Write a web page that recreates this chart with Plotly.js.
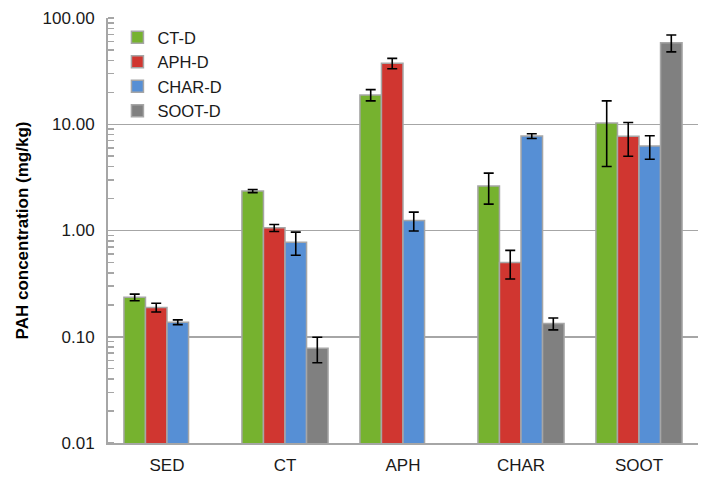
<!DOCTYPE html>
<html>
<head>
<meta charset="utf-8">
<script src="https://cdn.plot.ly/plotly-3.0.1.min.js"></script>
<style>html,body{margin:0;padding:0;background:#fff;}#chart{width:702px;height:479px;}</style>
</head>
<body>
<div id="chart"></div>
<script>
const categories = ["SED", "CT", "APH", "CHAR", "SOOT"];
const seriesNames = ["CT-D", "APH-D", "CHAR-D", "SOOT-D"];
const ctD = [0.235, 2.35, 18.9, 2.62, 10.3];
const ctDErr = [0.017, 0.08, 2.3, 0.85, 6.3];
const aphD = [0.189, 1.06, 37.5, 0.50, 7.7];
const aphDErr = [0.018, 0.08, 4.2, 0.15, 2.7];
const charD = [0.137, 0.775, 1.24, 7.75, 6.24];
const charDErr = [0.007, 0.19, 0.25, 0.4, 1.55];
const sootD = [null, 0.078, null, 0.133, 58.6];
const sootDErr = [null, 0.021, null, 0.017, 10.6];
const yTickVals = [0.01, 0.1, 1, 10, 100];
const yTickText = ["0.01", "0.10", "1.00", "10.00", "100.00"];
const minorVals = [];
[0.01, 0.1, 1, 10].forEach(d => { for (let k = 1; k <= 10; k++) minorVals.push(d * k); });

const colors = ["#76b22f", "#d03630", "#568fd5", "#808080"];
const values = [ctD, aphD, charD, sootD];
const errs = [ctDErr, aphDErr, charDErr, sootDErr];

const traces = seriesNames.map((name, i) => ({
  type: "bar",
  name: name,
  x: categories,
  y: values[i],
  marker: { color: colors[i], line: { color: "#a6a6a6", width: 1.5 } },
  error_y: { type: "data", array: errs[i], visible: true, color: "#000", thickness: 1.6, width: 5 }
}));

const layout = {
  width: 702, height: 479,
  margin: { l: 108, r: 4, t: 18, b: 36 },
  paper_bgcolor: "#fff", plot_bgcolor: "#fff",
  barmode: "group", bargap: 0.27, bargroupgap: 0,
  font: { family: "Liberation Sans, Arial, sans-serif", color: "#1a1a1a", size: 17 },
  showlegend: true,
  legend: {
    x: 0.016, y: 0.995, xanchor: "left", yanchor: "top",
    font: { size: 16.5, color: "#1a1a1a" }, bgcolor: "rgba(0,0,0,0)",
    tracegroupgap: 0, itemwidth: 30
  },
  xaxis: {
    type: "category",
    showline: true, linecolor: "#a6a6a6", linewidth: 2,
    ticks: "", showgrid: false, zeroline: false,
    tickfont: { size: 17, color: "#1a1a1a" },
    ticklabelstandoff: 6
  },
  yaxis: {
    type: "log", range: [-2, 2],
    tickmode: "array", tickvals: yTickVals, ticktext: yTickText,
    ticks: "", showline: true, linecolor: "#a6a6a6", linewidth: 2,
    showgrid: true, gridcolor: "#a6a6a6", gridwidth: 1.5,
    zeroline: false,
    tickfont: { size: 17, color: "#1a1a1a" },
    ticklabelstandoff: 8,
    minor: { tickmode: "array", tickvals: minorVals, ticks: "inside", ticklen: 6, tickcolor: "#a6a6a6", tickwidth: 1.5, showgrid: false },
    title: { text: "<b>PAH concentration (mg/kg)</b>", font: { size: 17, color: "#000" }, standoff: 10 }
  }
};

Plotly.newPlot("chart", traces, layout, { displayModeBar: false, staticPlot: true });
</script>
</body>
</html>
